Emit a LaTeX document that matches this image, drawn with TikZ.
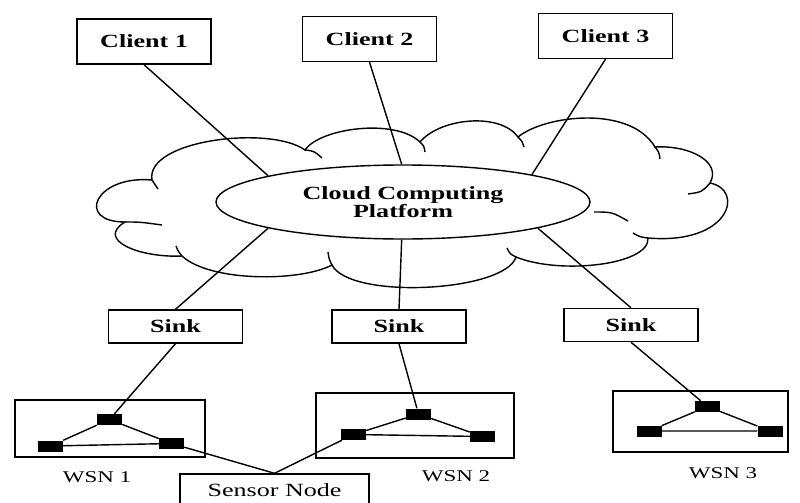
\documentclass[tikz,border=0pt]{standalone}
\usepackage{fontspec}
\setmainfont{Liberation Serif}[FakeStretch=1.4]
\usetikzlibrary{shapes.geometric}

\begin{document}
\begin{tikzpicture}[x=0.03cm,y=-0.03cm,
	link/.style={line width=1.2pt},
	box/.style={draw,line width=1.2pt,fill=white,inner sep=0pt,minimum width=4.02cm,font=\fontsize{15.9}{18}\selectfont\bfseries},
	sensor/.style={fill=black,inner sep=0pt,minimum width=0.75cm,minimum height=0.33cm},
	wsn/.style={draw,line width=1.2pt,inner sep=0pt},
	label/.style={font=\fontsize{14}{16}\selectfont}]
	\clip (0,0) rectangle (800,503);

	% the cloud
	\draw[link] (152,180) .. controls (145,140) and (270,125) .. (305,150)
		.. controls (320,128) and (395,118) .. (420,142)
		.. controls (440,118) and (500,112) .. (518,137)
		.. controls (545,115) and (630,105) .. (655,147)
		.. controls (690,145) and (722,162) .. (710,183)
		.. controls (745,190) and (730,245) .. (648,238)
		.. controls (650,265) and (560,275) .. (516,257)
		.. controls (505,292) and (350,300) .. (332,265)
		.. controls (300,282) and (210,282) .. (182,256)
		.. controls (140,258) and (95,240) .. (125,222)
		.. controls (75,222) and (95,175) .. (152,180);
	\draw[link] (305,150) .. controls (314,151) .. (322,158);
	\draw[link] (420,142) .. controls (424,146) .. (425,152);
	\draw[link] (518,137) .. controls (522,141) .. (524,147);
	\draw[link] (655,147) .. controls (659,152) .. (660,159);
	\draw[link] (710,183) .. controls (702,192) .. (688,194);
	\draw[link] (594,212) .. controls (612,212) .. (628,221);
	\draw[link] (648,238) .. controls (640,237) .. (633,233);
	\draw[link] (516,257) .. controls (510,254) .. (507,248);
	\draw[link] (332,265) .. controls (329,259) .. (328,252);
	\draw[link] (182,256) .. controls (178,251) .. (176,246);
	\draw[link] (125,222) .. controls (140,222) .. (162,225);
	\draw[link] (152,180) .. controls (155,185) .. (158,189);

	\node[ellipse,draw,line width=1.2pt,fill=white,inner sep=0pt,minimum width=11.22cm,minimum height=2.22cm,
		align=center,font=\fontsize{15.9}{15.5}\selectfont\bfseries] (platform) at (403,202) {Cloud Computing\\Platform};

	% clients and sinks
	\node[box,minimum height=1.35cm] (client1) at (144,41.5) {Client 1};
	\node[box,minimum height=1.35cm] (client2) at (369.5,39) {Client 2};
	\node[box,minimum height=1.35cm] (client3) at (605.5,36) {Client 3};
	\node[box,minimum height=0.99cm] (sink1) at (175.5,326.5) {Sink};
	\node[box,minimum height=0.99cm] (sink2) at (399,326.5) {Sink};
	\node[box,minimum height=0.99cm] (sink3) at (631,325) {Sink};

	\draw[link] (client1.south) -- (platform.169);
	\draw[link] (client2.south) -- (platform.92);
	\draw[link] (client3.south) -- (platform.12);
	\draw[link] (sink1.north) -- (platform.191);
	\draw[link] (sink2.north) -- (platform.268);
	\draw[link] (sink3.north) -- (platform.349);

	% sensor networks
	\node[wsn,minimum width=5.7cm,minimum height=1.71cm] (wsn1) at (110,428.5) {};
	\node[wsn,minimum width=5.94cm,minimum height=1.95cm] (wsn2) at (415,425.5) {};
	\node[wsn,minimum width=5.25cm,minimum height=1.83cm] (wsn3) at (700.5,421.5) {};
	\node[label] (name1) at (97,477) {WSN 1};
	\node[label] (name2) at (456,476) {WSN 2};
	\node[label] (name3) at (723,473) {WSN 3};

	\node[sensor] (t1) at (109.5,419.5) {};
	\node[sensor] (l1) at (50.5,446) {};
	\node[sensor] (r1) at (171.5,443.5) {};
	\node[sensor] (t2) at (418.5,414) {};
	\node[sensor] (l2) at (353.5,434.5) {};
	\node[sensor] (r2) at (482.5,436.5) {};
	\node[sensor] (t3) at (707.5,406.5) {};
	\node[sensor] (l3) at (649,431) {};
	\node[sensor] (r3) at (770,431) {};
	\foreach \n in {1,2,3}
	{
		\draw[link] (t\n) -- (l\n) -- (r\n) -- (t\n);
		\draw[link] (sink\n.south) -- (t\n);
	}

	\node[draw,line width=1.2pt,inner sep=0pt,minimum width=5.67cm,minimum height=0.96cm,
		font=\fontsize{15.9}{18}\selectfont] (sensornode) at (274.5,490) {Sensor Node};
	\draw[link] (r1) -- (sensornode.north) -- (l2);
\end{tikzpicture}
\end{document}
